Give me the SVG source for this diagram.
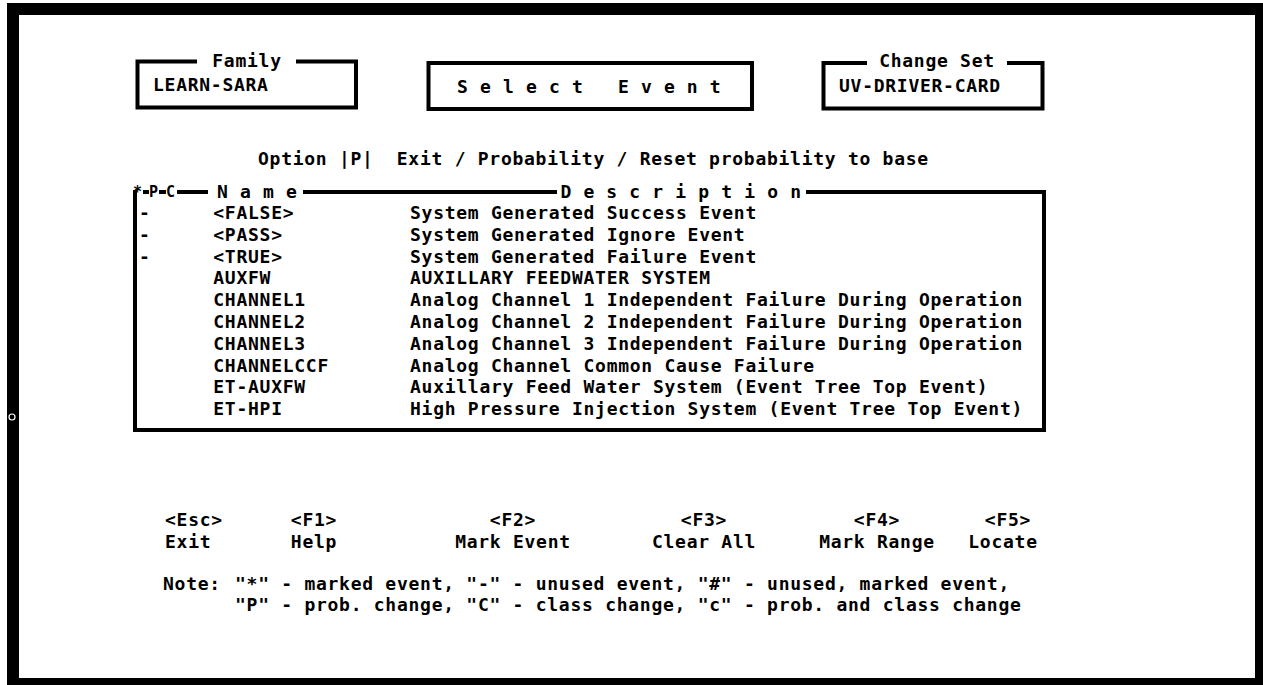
<svg xmlns="http://www.w3.org/2000/svg" width="1263" height="685" viewBox="0 0 1263 685">
<style>
  text { font-family: "DejaVu Sans Mono", "Liberation Mono", monospace; font-weight: bold; font-size: 18px; letter-spacing: 0.73px; fill: #000; white-space: pre; }
  .wide { letter-spacing: 12.15px; }
  .small { font-size: 15px; letter-spacing: 0; }
  .mid { text-anchor: middle; }
  .box { fill: none; stroke: #000; stroke-width: 4; }
  .rule { stroke: #000; stroke-width: 4; fill: none; }
</style>
<rect width="1263" height="685" fill="#fff"/>
<g id="frame">
  <path d="M7,3 H1263 V685 H7 Z M19,15 V678 H1255 V15 Z" fill="#000" fill-rule="evenodd"/>
  <circle cx="12" cy="417" r="3" fill="none" stroke="#fff" stroke-width="1.2"/>
</g>
<g id="family">
  <path class="box" d="M197,61.5 H137.5 V107.5 H356 V61.5 H296"/>
  <text x="247" y="67" class="mid">Family</text>
  <text x="153" y="91">LEARN-SARA</text>
</g>
<g id="select-event">
  <rect class="box" x="428.5" y="63" width="323.5" height="46"/>
  <text x="457" y="93" class="wide">Select Event</text>
</g>
<g id="change-set">
  <path class="box" d="M867,63 H823.5 V108.5 H1042.5 V63 H1007"/>
  <text x="937" y="67" class="mid">Change Set</text>
  <text x="839" y="92">UV-DRIVER-CARD</text>
</g>
<g id="option">
  <text x="258" y="165">Option |P|  Exit / Probability / Reset probability to base</text>
</g>
<g id="event-list">
  <path class="rule" d="M1044,192 H806 M557,192 H303 M208,192 H177 M135,190 V430 H1044 V190"/>
  <path class="rule" d="M143,192 H149 M159,192 H166"/>
  <text x="133" y="197" class="small">*</text>
  <text x="149" y="197" class="small">P</text>
  <text x="166" y="197" class="small">C</text>
  <text x="217" y="198" class="wide">Name</text>
  <text x="560.4" y="198" class="wide">Description</text>
  <text x="139" y="219">-</text>
  <text x="213.3" y="219">&lt;FALSE&gt;</text>
  <text x="410" y="219">System Generated Success Event</text>
  <text x="139" y="240.8">-</text>
  <text x="213.3" y="240.8">&lt;PASS&gt;</text>
  <text x="410" y="240.8">System Generated Ignore Event</text>
  <text x="139" y="262.6">-</text>
  <text x="213.3" y="262.6">&lt;TRUE&gt;</text>
  <text x="410" y="262.6">System Generated Failure Event</text>
  <text x="213.3" y="284.4">AUXFW</text>
  <text x="410" y="284.4">AUXILLARY FEEDWATER SYSTEM</text>
  <text x="213.3" y="306.2">CHANNEL1</text>
  <text x="410" y="306.2">Analog Channel 1 Independent Failure During Operation</text>
  <text x="213.3" y="328">CHANNEL2</text>
  <text x="410" y="328">Analog Channel 2 Independent Failure During Operation</text>
  <text x="213.3" y="349.8">CHANNEL3</text>
  <text x="410" y="349.8">Analog Channel 3 Independent Failure During Operation</text>
  <text x="213.3" y="371.6">CHANNELCCF</text>
  <text x="410" y="371.6">Analog Channel Common Cause Failure</text>
  <text x="213.3" y="393.4">ET-AUXFW</text>
  <text x="410" y="393.4">Auxillary Feed Water System (Event Tree Top Event)</text>
  <text x="213.3" y="415.2">ET-HPI</text>
  <text x="410" y="415.2">High Pressure Injection System (Event Tree Top Event)</text>
</g>
<g id="keys">
  <text x="165" y="526">&lt;Esc&gt;</text>
  <text x="165" y="548">Exit</text>
  <text x="314" y="526" class="mid">&lt;F1&gt;</text>
  <text x="314" y="548" class="mid">Help</text>
  <text x="513" y="526" class="mid">&lt;F2&gt;</text>
  <text x="513" y="548" class="mid">Mark Event</text>
  <text x="704" y="526" class="mid">&lt;F3&gt;</text>
  <text x="704" y="548" class="mid">Clear All</text>
  <text x="877" y="526" class="mid">&lt;F4&gt;</text>
  <text x="877" y="548" class="mid">Mark Range</text>
  <text x="1008" y="526" class="mid">&lt;F5&gt;</text>
  <text x="1003" y="548" class="mid">Locate</text>
</g>
<g id="note">
  <text x="163" y="590">Note:</text>
  <text x="235" y="590">"*" - marked event, "-" - unused event, "#" - unused, marked event,</text>
  <text x="235" y="611">"P" - prob. change, "C" - class change, "c" - prob. and class change</text>
</g>
</svg>
